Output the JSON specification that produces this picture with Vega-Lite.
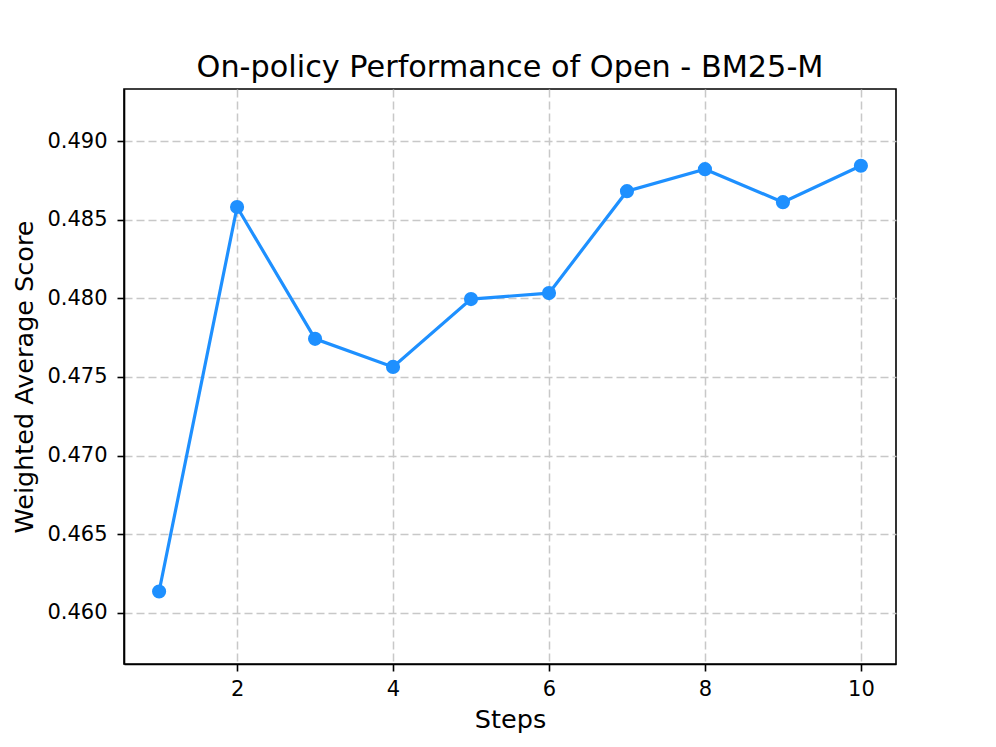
{
  "$schema": "https://vega.github.io/schema/vega-lite/v6.json",
  "width": 772,
  "height": 575,
  "autosize": "none",
  "padding": {"left": 124, "top": 89, "right": 100, "bottom": 83},
  "background": "white",
  "config": {
    "font": "DejaVu Sans",
    "view": {"stroke": "black", "strokeWidth": 1.6},
    "axis": {
      "labelFont": "DejaVu Sans",
      "titleFont": "DejaVu Sans",
      "labelColor": "black",
      "titleColor": "black",
      "titleFontWeight": "normal",
      "labelFontSize": 21,
      "titleFontSize": 25.5,
      "domainColor": "black",
      "domainWidth": 1.6,
      "tickColor": "black",
      "tickWidth": 1.6,
      "tickSize": 7,
      "labelPadding": 7,
      "grid": true,
      "gridColor": "#c8c8c8",
      "gridWidth": 1.5,
      "gridDash": [8, 4]
    }
  },
  "title": {
    "text": "On-policy Performance of Open - BM25-M",
    "fontSize": 30.3,
    "fontWeight": "normal",
    "font": "DejaVu Sans",
    "color": "black",
    "anchor": "middle",
    "baseline": "alphabetic",
    "offset": -18
  },
  "data": {
    "values": [
      {"step": 1, "score": 0.46134},
      {"step": 2, "score": 0.48582},
      {"step": 3, "score": 0.47743},
      {"step": 4, "score": 0.47564},
      {"step": 5, "score": 0.47996},
      {"step": 6, "score": 0.48034},
      {"step": 7, "score": 0.48683},
      {"step": 8, "score": 0.48823},
      {"step": 9, "score": 0.48613},
      {"step": 10, "score": 0.48845}
    ]
  },
  "mark": {
    "type": "line",
    "color": "#1E90FF",
    "strokeWidth": 3.2,
    "point": {"filled": true, "size": 200, "color": "#1E90FF", "opacity": 1}
  },
  "encoding": {
    "x": {
      "field": "step",
      "type": "quantitative",
      "scale": {"domain": [0.55, 10.45], "nice": false, "zero": false},
      "axis": {
        "title": "Steps",
        "values": [2, 4, 6, 8, 10],
        "format": "d",
        "titleY": 63,
        "titleBaseline": "alphabetic"
      }
    },
    "y": {
      "field": "score",
      "type": "quantitative",
      "scale": {"domain": [0.456727, 0.493335], "nice": false, "zero": false},
      "axis": {
        "title": "Weighted Average Score",
        "values": [0.46, 0.465, 0.47, 0.475, 0.48, 0.485, 0.49],
        "format": ".3f",
        "labelPadding": 10,
        "titleAngle": -90,
        "titleX": -92,
        "titleY": 287.5,
        "titleAlign": "center",
        "titleBaseline": "alphabetic"
      }
    }
  }
}
